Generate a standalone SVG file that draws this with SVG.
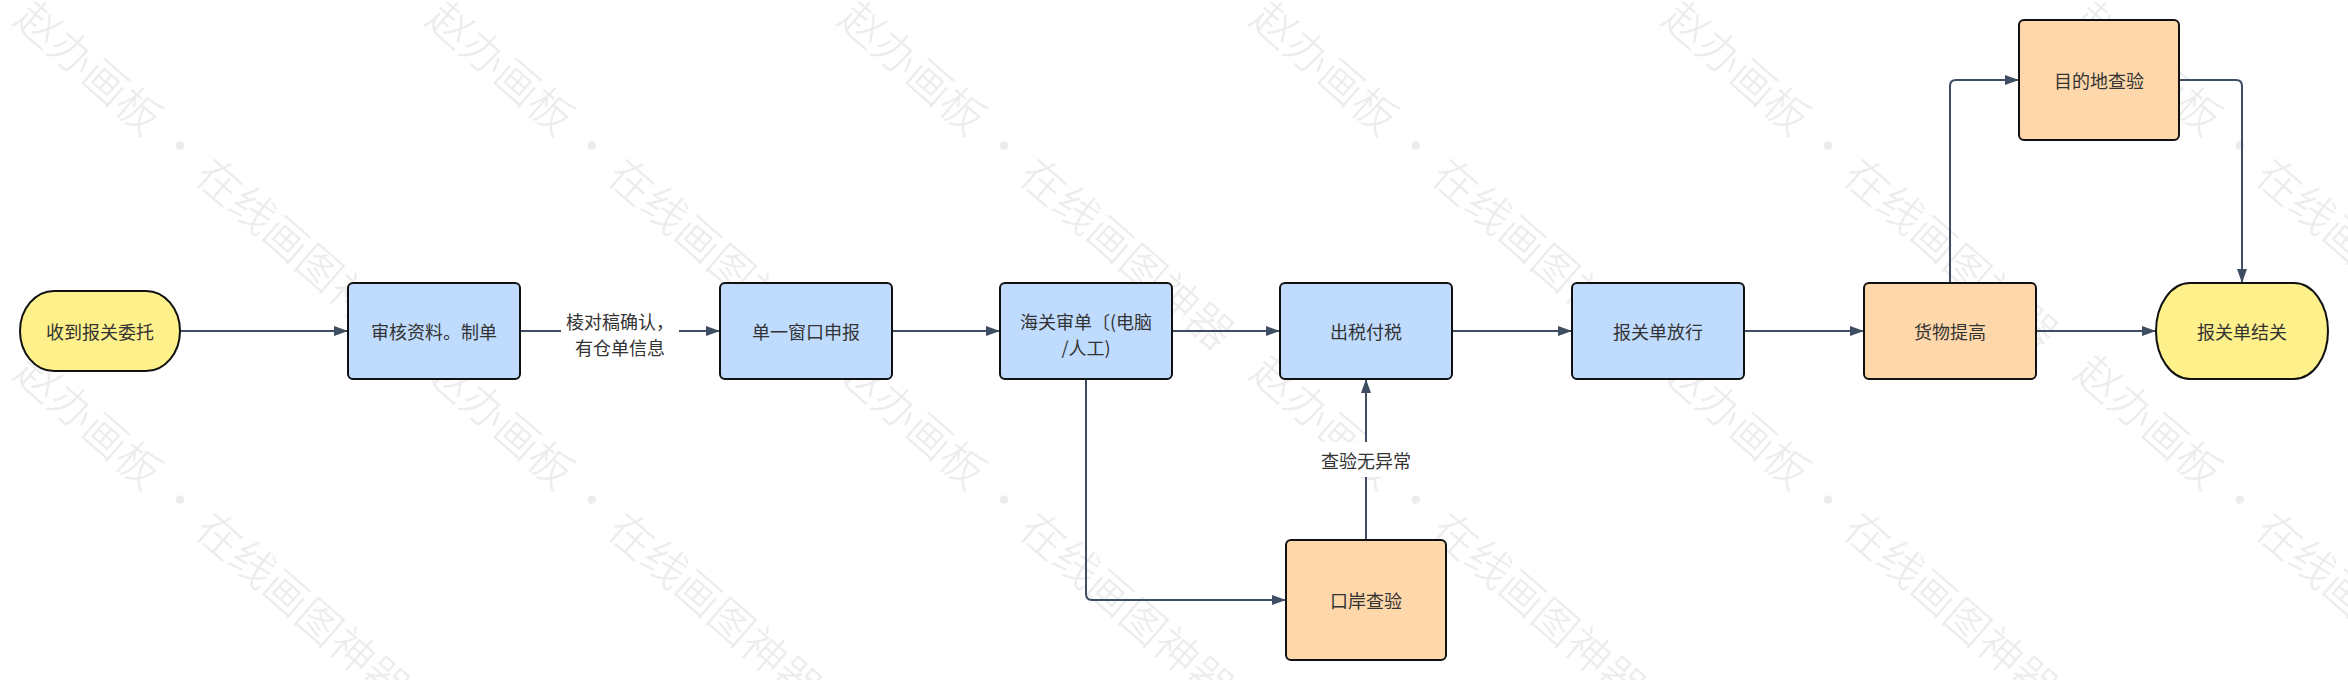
<svg xmlns="http://www.w3.org/2000/svg" width="2348" height="680" viewBox="0 0 2348 680">
<defs>
<style>
.wm{font-family:"Noto Sans CJK SC","Noto Sans",sans-serif;font-size:44px;fill:#ececec;font-weight:300}
.node{stroke:#111;stroke-width:2}
.blue{fill:#bfdbfe}
.orange{fill:#fed7aa}
.yellow{fill:#fef08a}
.t{font-family:"Noto Sans CJK SC","Noto Sans",sans-serif;font-size:18px;fill:#333;text-anchor:middle;dominant-baseline:central}
.c{fill:none;stroke:#3f4d63;stroke-width:2;marker-end:url(#arr)}
</style>
<marker id="arr" markerUnits="userSpaceOnUse" markerWidth="14" markerHeight="10" refX="14" refY="5" orient="auto">
<path d="M0,0 L14,5 L0,10 Z" fill="#3f4d63"/>
</marker>
<text id="wmt" class="wm">赵办画板 · 在线画图神器</text>
</defs>
<rect x="0" y="0" width="2348" height="680" fill="#ffffff"/>
<g id="watermark">
<use href="#wmt" transform="translate(12,22) rotate(41)"/>
<use href="#wmt" transform="translate(424,22) rotate(41)"/>
<use href="#wmt" transform="translate(836,22) rotate(41)"/>
<use href="#wmt" transform="translate(1248,22) rotate(41)"/>
<use href="#wmt" transform="translate(1660,22) rotate(41)"/>
<use href="#wmt" transform="translate(2072,22) rotate(41)"/>
<use href="#wmt" transform="translate(12,376) rotate(41)"/>
<use href="#wmt" transform="translate(424,376) rotate(41)"/>
<use href="#wmt" transform="translate(836,376) rotate(41)"/>
<use href="#wmt" transform="translate(1248,376) rotate(41)"/>
<use href="#wmt" transform="translate(1660,376) rotate(41)"/>
<use href="#wmt" transform="translate(2072,376) rotate(41)"/>
</g>
<g id="connectors">
<path class="c" d="M180,331 H348"/>
<path class="c" d="M520,331 H720"/>
<path class="c" d="M892,331 H1000"/>
<path class="c" d="M1172,331 H1280"/>
<path class="c" d="M1452,331 H1572"/>
<path class="c" d="M1744,331 H1864"/>
<path class="c" d="M2036,331 H2156"/>
<path class="c" d="M1950,283 V86 Q1950,80 1956,80 H2019"/>
<path class="c" d="M2179,80 H2236 Q2242,80 2242,86 V283"/>
<path class="c" d="M1086,379 V594 Q1086,600 1092,600 H1286"/>
<path class="c" d="M1366,540 V379"/>
<g id="label1">
<rect x="561" y="306" width="118" height="54" fill="#ffffff"/>
<text class="t" x="620" y="321">棱对稿确认，</text>
<text class="t" x="620" y="347">有仓单信息</text>
</g>
<g id="label2">
<rect x="1318" y="442" width="96" height="35" fill="#ffffff"/>
<text class="t" x="1366" y="460">查验无异常</text>
</g>
</g>
<g id="n_start"><rect class="node yellow" x="20" y="291" width="160" height="80" rx="34" ry="40"/><text class="t" x="100" y="331">收到报关委托</text></g>
<g id="n_shenhe"><rect class="node blue" x="348" y="283" width="172" height="96" rx="5"/><text class="t" x="434" y="331">审核资料。制单</text></g>
<g id="n_danyi"><rect class="node blue" x="720" y="283" width="172" height="96" rx="5"/><text class="t" x="806" y="331">单一窗口申报</text></g>
<g id="n_haiguan"><rect class="node blue" x="1000" y="283" width="172" height="96" rx="5"/><text class="t" x="1086" y="321">海关审单〔(电脑</text><text class="t" x="1086" y="347">/人工)</text></g>
<g id="n_chushui"><rect class="node blue" x="1280" y="283" width="172" height="96" rx="5"/><text class="t" x="1366" y="331">出税付税</text></g>
<g id="n_fangxing"><rect class="node blue" x="1572" y="283" width="172" height="96" rx="5"/><text class="t" x="1658" y="331">报关单放行</text></g>
<g id="n_tigao"><rect class="node orange" x="1864" y="283" width="172" height="96" rx="5"/><text class="t" x="1950" y="331">货物提高</text></g>
<g id="n_jieguan"><rect class="node yellow" x="2156" y="283" width="172" height="96" rx="34" ry="48"/><text class="t" x="2242" y="331">报关单结关</text></g>
<g id="n_mudidi"><rect class="node orange" x="2019" y="20" width="160" height="120" rx="5"/><text class="t" x="2099" y="80">目的地查验</text></g>
<g id="n_kouan"><rect class="node orange" x="1286" y="540" width="160" height="120" rx="5"/><text class="t" x="1366" y="600">口岸查验</text></g>
</svg>
